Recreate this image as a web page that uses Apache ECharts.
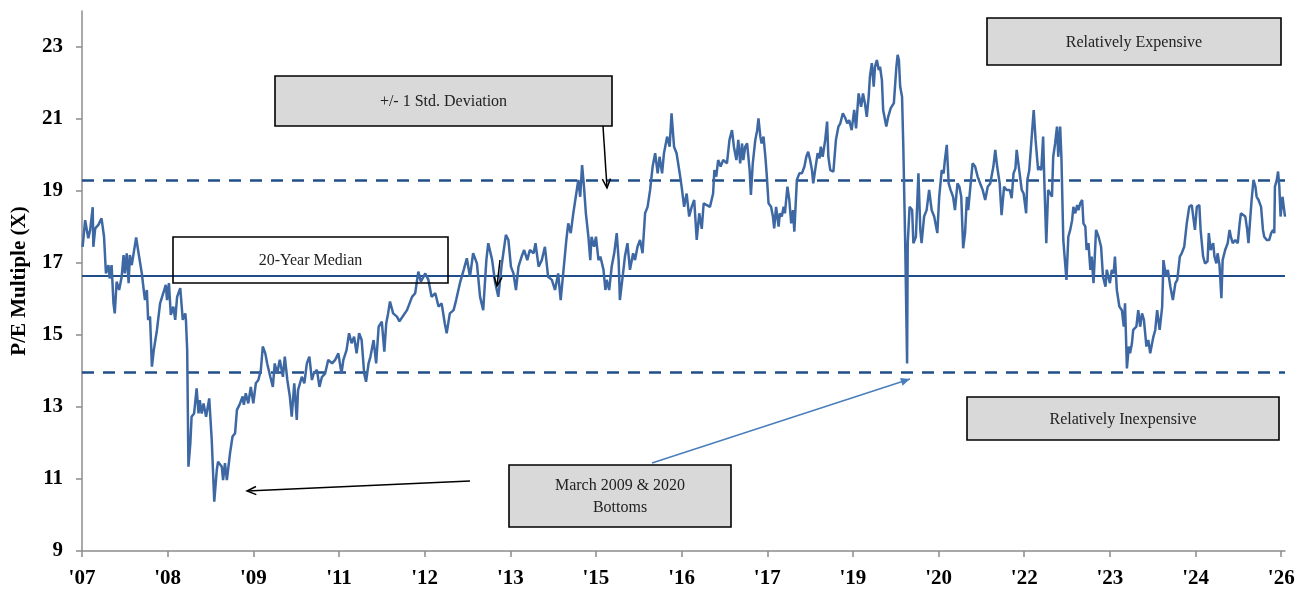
<!DOCTYPE html>
<html>
<head>
<meta charset="utf-8">
<script src="https://cdn.jsdelivr.net/npm/echarts@6/dist/echarts.min.js"></script>
<style>
  html, body { margin: 0; padding: 0; background: #fff; }
  #chart { width: 1299px; height: 590px; }
</style>
</head>
<body>
<div id="chart"></div>
<script>
// x positions are fractional years on the chart's date axis
const peYears = [
  2007.11, 2007.15, 2007.18, 2007.20, 2007.23, 2007.27, 2007.28, 2007.31, 2007.36, 2007.41,
  2007.45, 2007.48, 2007.52, 2007.54, 2007.57, 2007.60, 2007.62, 2007.65, 2007.69, 2007.73,
  2007.76, 2007.78, 2007.81, 2007.84, 2007.86, 2007.89, 2007.96, 2007.99, 2008.05, 2008.08,
  2008.10, 2008.13, 2008.15, 2008.18, 2008.21, 2008.24, 2008.29, 2008.34, 2008.39, 2008.43,
  2008.45, 2008.48, 2008.51, 2008.55, 2008.58, 2008.61, 2008.66, 2008.70, 2008.74, 2008.75,
  2008.77, 2008.79, 2008.82, 2008.84, 2008.88, 2008.92, 2008.95, 2008.97, 2009.00, 2009.03,
  2009.07, 2009.12, 2009.16, 2009.20, 2009.24, 2009.26, 2009.32, 2009.34, 2009.37, 2009.40,
  2009.45, 2009.49, 2009.53, 2009.56, 2009.60, 2009.65, 2009.67, 2009.70, 2009.74, 2009.78,
  2009.82, 2009.86, 2009.90, 2009.94, 2009.97, 2010.01, 2010.04, 2010.09, 2010.13, 2010.16,
  2010.20, 2010.24, 2010.29, 2010.32, 2010.36, 2010.40, 2010.43, 2010.47, 2010.51, 2010.53,
  2010.59, 2010.63, 2010.67, 2010.71, 2010.75, 2010.78, 2010.83, 2010.87, 2010.91, 2010.96,
  2011.01, 2011.07, 2011.12, 2011.17, 2011.22, 2011.25, 2011.30, 2011.34, 2011.38, 2011.42,
  2011.46, 2011.50, 2011.54, 2011.58, 2011.61, 2011.65, 2011.68, 2011.73, 2011.77, 2011.81,
  2011.86, 2011.90, 2011.93, 2011.96, 2011.99, 2012.04, 2012.10, 2012.14, 2012.26, 2012.34,
  2012.39, 2012.44, 2012.48, 2012.55, 2012.60, 2012.65, 2012.71, 2012.76, 2012.81, 2012.86,
  2012.89, 2012.94, 2013.00, 2013.04, 2013.10, 2013.16, 2013.21, 2013.26, 2013.31, 2013.37,
  2013.42, 2013.47, 2013.52, 2013.55, 2013.61, 2013.66, 2013.71, 2013.76, 2013.83, 2013.87,
  2013.91, 2013.95, 2013.99, 2014.03, 2014.08, 2014.12, 2014.17, 2014.21, 2014.27, 2014.30,
  2014.35, 2014.40, 2014.45, 2014.50, 2014.56, 2014.61, 2014.66, 2014.70, 2014.74, 2014.79,
  2014.82, 2014.86, 2014.90, 2014.94, 2014.98, 2015.01, 2015.04, 2015.07, 2015.10, 2015.14,
  2015.17, 2015.19, 2015.23, 2015.26, 2015.30, 2015.33, 2015.38, 2015.41, 2015.43, 2015.47,
  2015.51, 2015.55, 2015.59, 2015.62, 2015.64, 2015.69, 2015.72, 2015.76, 2015.80, 2015.85,
  2015.88, 2015.92, 2015.96, 2016.00, 2016.04, 2016.08, 2016.12, 2016.16, 2016.20, 2016.24,
  2016.27, 2016.31, 2016.34, 2016.39, 2016.43, 2016.46, 2016.50, 2016.54, 2016.59, 2016.62,
  2016.66, 2016.70, 2016.74, 2016.78, 2016.82, 2016.86, 2016.90, 2016.94, 2016.97, 2017.02,
  2017.07, 2017.12, 2017.14, 2017.17, 2017.20, 2017.24, 2017.28, 2017.34, 2017.38, 2017.42,
  2017.45, 2017.49, 2017.52, 2017.55, 2017.58, 2017.60, 2017.63, 2017.66, 2017.70, 2017.72,
  2017.75, 2017.79, 2017.82, 2017.84, 2017.87, 2017.89, 2017.92, 2017.95, 2017.97, 2018.00,
  2018.04, 2018.07, 2018.09, 2018.12, 2018.16, 2018.18, 2018.21, 2018.24, 2018.26, 2018.30,
  2018.33, 2018.36, 2018.39, 2018.41, 2018.45, 2018.49, 2018.53, 2018.57, 2018.60, 2018.63,
  2018.66, 2018.69, 2018.71, 2018.74, 2018.78, 2018.81, 2018.83, 2018.86, 2018.90, 2018.93,
  2018.95, 2018.98, 2019.03, 2019.07, 2019.11, 2019.14, 2019.18, 2019.22, 2019.25, 2019.28,
  2019.32, 2019.36, 2019.39, 2019.43, 2019.47, 2019.50, 2019.53, 2019.56, 2019.59, 2019.61,
  2019.64, 2019.67, 2019.69, 2019.72, 2019.75, 2019.77, 2019.80, 2019.82, 2019.87, 2019.90,
  2019.94, 2019.97, 2019.99, 2020.03, 2020.05, 2020.07, 2020.09, 2020.12, 2020.14, 2020.17,
  2020.20, 2020.21, 2020.24, 2020.28, 2020.30, 2020.34, 2020.38, 2020.41, 2020.43, 2020.47,
  2020.51, 2020.55, 2020.59, 2020.63, 2020.68, 2020.71, 2020.75, 2020.78, 2020.80, 2020.83,
  2020.86, 2020.89, 2020.93, 2020.96, 2021.00, 2021.03, 2021.06, 2021.09, 2021.12, 2021.15,
  2021.17, 2021.20, 2021.24, 2021.28, 2021.32, 2021.36, 2021.40, 2021.44, 2021.48, 2021.52,
  2021.57, 2021.60, 2021.63, 2021.67, 2021.70, 2021.74, 2021.78, 2021.83, 2021.86, 2021.89,
  2021.92, 2021.94, 2021.98, 2022.02, 2022.05, 2022.09, 2022.11, 2022.14, 2022.17, 2022.21,
  2022.24, 2022.28, 2022.30, 2022.33, 2022.36, 2022.38, 2022.41, 2022.44, 2022.46, 2022.50,
  2022.52, 2022.55, 2022.58, 2022.60, 2022.63, 2022.65, 2022.68, 2022.73, 2022.76, 2022.79,
  2022.82, 2022.84, 2022.87, 2022.90, 2022.92, 2022.95, 2022.98, 2023.00, 2023.03, 2023.05,
  2023.08, 2023.11, 2023.13, 2023.16, 2023.20, 2023.24, 2023.28, 2023.31, 2023.35, 2023.37,
  2023.40, 2023.42, 2023.45, 2023.48, 2023.50, 2023.53, 2023.57, 2023.61, 2023.64, 2023.66,
  2023.69, 2023.72, 2023.74, 2023.77, 2023.79, 2023.84, 2023.87, 2023.90, 2023.93, 2023.96,
  2024.00, 2024.03, 2024.06, 2024.09, 2024.11, 2024.14, 2024.17, 2024.21, 2024.25, 2024.27,
  2024.31, 2024.34, 2024.38, 2024.42, 2024.46, 2024.49, 2024.53, 2024.56, 2024.60, 2024.64,
  2024.68, 2024.72, 2024.75, 2024.77, 2024.80, 2024.84, 2024.86, 2024.90, 2024.93, 2024.97,
  2024.99, 2025.02, 2025.06, 2025.08, 2025.11, 2025.13, 2025.16, 2025.19, 2025.21, 2025.25,
  2025.29, 2025.32, 2025.34, 2025.37, 2025.41, 2025.45, 2025.48, 2025.50, 2025.53, 2025.57,
  2025.60, 2025.62, 2025.65, 2025.67, 2025.70, 2025.73, 2025.75, 2025.78, 2025.82, 2025.85,
  2025.87, 2025.91, 2025.95, 2025.98, 2026.01, 2026.03, 2026.04, 2026.07, 2026.09, 2026.11,
  2026.13, 2026.16, 2026.19, 2026.20
];
const peValues = [
  17.45, 18.19, 18.15, 17.69, 17.92, 18.55, 17.45, 17.96, 18.06, 18.24,
  17.73, 16.71, 16.94, 16.57, 16.94, 15.88, 15.60, 16.48, 16.25, 16.62,
  17.22, 16.71, 17.27, 16.44, 17.22, 16.94, 17.71, 17.36, 16.71, 16.25,
  15.97, 16.25, 15.42, 15.51, 14.12, 14.58, 15.14, 15.88, 16.16, 16.39,
  15.97, 16.44, 15.56, 15.79, 15.42, 16.06, 16.30, 15.42, 15.60, 15.42,
  14.58, 11.34, 11.99, 12.73, 12.82, 13.52, 12.82, 13.19, 12.82, 13.10,
  12.73, 13.24, 12.08, 10.37, 11.25, 11.48, 11.34, 10.97, 11.44, 10.97,
  11.71, 12.18, 12.27, 12.92, 13.06, 13.29, 13.06, 13.38, 13.10, 13.56,
  13.10, 13.66, 13.75, 14.03, 14.68, 14.49, 14.21, 13.84, 13.56, 14.21,
  13.93, 14.31, 13.84, 14.40, 13.75, 13.29, 12.73, 13.66, 12.64, 13.47,
  13.84, 13.66, 14.21, 14.40, 13.75, 13.93, 14.03, 13.56, 13.84, 13.93,
  14.31, 14.21, 14.31, 14.49, 13.93, 14.31, 14.58, 15.05, 14.77, 14.95,
  14.49, 15.05, 14.86, 13.93, 13.70, 14.21, 14.40, 14.86, 14.21, 15.23,
  15.37, 14.54, 15.32, 15.60, 15.93, 15.60, 15.51, 15.38, 15.69, 16.06,
  16.16, 16.76, 16.48, 16.71, 16.53, 16.06, 16.16, 15.79, 15.88, 15.32,
  15.05, 15.60, 15.69, 15.97, 16.44, 16.81, 17.13, 16.62, 17.27, 16.99,
  16.06, 15.69, 17.08, 17.55, 17.10, 16.45, 16.06, 16.90, 17.78, 17.64,
  16.90, 16.71, 16.25, 16.90, 17.18, 17.36, 17.08, 17.36, 17.27, 17.55,
  16.90, 17.08, 17.45, 16.62, 16.53, 16.25, 16.71, 15.97, 16.71, 17.64,
  18.10, 17.83, 18.38, 18.84, 19.31, 18.84, 19.72, 19.12, 18.38, 17.73,
  17.08, 17.73, 17.45, 17.73, 17.08, 17.18, 16.81, 16.25, 16.53, 16.25,
  16.90, 17.27, 17.83, 17.08, 15.97, 16.71, 17.18, 17.55, 16.81, 17.27,
  17.08, 17.45, 17.64, 17.27, 18.38, 18.56, 19.03, 19.68, 20.05, 19.49,
  19.95, 19.49, 20.05, 20.51, 20.23, 21.16, 20.23, 20.05, 19.49, 19.12,
  18.56, 18.93, 18.29, 18.56, 18.75, 17.64, 18.38, 17.95, 18.66, 18.61,
  18.56, 18.93, 19.58, 19.40, 19.86, 19.68, 19.86, 19.77, 20.42, 20.69,
  20.23, 19.86, 20.42, 19.77, 20.32, 19.86, 20.23, 20.32, 19.58, 18.89,
  19.77, 20.42, 20.69, 21.02, 20.51, 20.32, 20.51, 19.95, 19.49, 18.66,
  18.56, 18.29, 17.96, 18.56, 18.01, 18.38, 18.29, 18.56, 18.38, 19.12,
  18.75, 18.10, 18.47, 17.87, 19.31, 19.49, 19.49, 19.68, 19.95, 20.09,
  19.86, 19.58, 19.21, 19.58, 20.05, 19.91, 20.23, 19.95, 20.42, 20.93,
  19.95, 19.58, 19.54, 20.42, 20.79, 20.88, 21.16, 21.02, 20.88, 20.97,
  20.69, 21.25, 20.74, 21.71, 21.34, 21.71, 21.44, 21.06, 21.62, 22.18,
  22.55, 21.90, 22.45, 22.64, 22.36, 22.45, 22.08, 21.25, 20.79, 21.06,
  21.30, 21.25, 21.44, 22.45, 22.78, 22.64, 21.90, 21.62, 20.23, 17.55,
  14.21, 17.55, 18.56, 18.47, 17.55, 17.73, 19.49, 17.92, 17.55, 18.29,
  18.47, 19.03, 18.47, 18.29, 17.83, 18.84, 19.58, 19.49, 19.86, 20.28,
  19.21, 19.03, 18.84, 18.47, 19.21, 19.12, 18.84, 17.41, 17.83, 18.84,
  18.47, 19.03, 19.77, 19.68, 19.40, 19.21, 19.03, 18.75, 19.12, 19.21,
  19.68, 20.14, 19.68, 19.21, 18.33, 19.12, 19.03, 19.03, 18.80, 19.49,
  19.63, 20.14, 19.58, 19.03, 18.93, 18.38, 19.31, 19.58, 19.58, 21.25,
  20.42, 19.58, 19.68, 19.58, 20.51, 19.21, 17.55, 19.03, 19.07, 18.84,
  19.95, 20.32, 20.79, 19.95, 20.79, 19.95, 17.64, 16.53, 17.73, 17.92,
  18.19, 18.56, 18.38, 18.61, 18.47, 18.66, 18.75, 18.10, 18.01, 17.36,
  17.55, 16.81, 17.18, 16.44, 17.92, 17.73, 17.45, 16.62, 16.34, 16.81,
  16.81, 16.44, 16.81, 16.71, 17.18, 16.25, 15.79, 15.69, 15.23, 15.88,
  14.07, 14.68, 14.49, 14.77, 15.14, 15.23, 15.69, 15.23, 15.60, 15.42,
  14.68, 14.86, 14.49, 14.77, 14.95, 15.14, 15.69, 15.14, 15.79, 17.08,
  16.62, 16.81, 16.34, 15.97, 16.44, 16.53, 17.18, 17.27, 17.45, 18.10,
  18.56, 18.61, 18.19, 17.92, 18.56, 18.61, 17.92, 17.18, 16.99, 17.04,
  17.83, 17.36, 17.55, 17.18, 16.99, 17.27, 16.94, 16.02, 17.08, 17.36,
  17.55, 17.92, 17.73, 17.55, 17.64, 17.55, 18.10, 18.38, 18.38, 18.29,
  17.92, 17.55, 18.29, 18.75, 19.31, 19.12, 18.84, 18.75, 18.56, 17.92,
  17.73, 17.64, 17.64, 17.83, 17.92, 17.83, 19.12, 19.31, 19.54, 19.12,
  18.29, 18.84, 18.89, 18.29
];

const medianPE = 16.64;
const upperBand = 19.31;
const lowerBand = 13.97;

const xTickYears = [2007.10, 2008.46, 2009.82, 2011.18, 2012.54, 2013.90, 2015.26, 2016.62,
  2017.98, 2019.34, 2020.70, 2022.06, 2023.42, 2024.78, 2026.14];
const xTickLabels = ["'07", "'08", "'09", "'11", "'12", "'13", "'15", "'16",
  "'17", "'19", "'20", "'22", "'23", "'24", "'26"];
const yTickValues = [9, 11, 13, 15, 17, 19, 21, 23];

const chart = echarts.init(document.getElementById('chart'));
const serif = '"Liberation Serif", "DejaVu Serif", serif';
const navy = '#1f4e89';

// little helpers for the pasted-on callouts
function arrow(x1, y1, x2, y2, color, filled) {
  const a = Math.atan2(y2 - y1, x2 - x1);
  const L = 10, w = 0.42;
  const p1 = [x2 - L * Math.cos(a - w), y2 - L * Math.sin(a - w)];
  const p2 = [x2 - L * Math.cos(a + w), y2 - L * Math.sin(a + w)];
  const head = filled
    ? { type: 'polygon', z: 100, shape: { points: [p1, [x2, y2], p2] }, style: { fill: color } }
    : { type: 'polyline', z: 100, shape: { points: [p1, [x2, y2], p2] }, style: { stroke: color, lineWidth: 1.5, fill: null } };
  return [
    { type: 'line', z: 100, shape: { x1: x1, y1: y1, x2: x2, y2: y2 }, style: { stroke: color, lineWidth: 1.5 } },
    head
  ];
}
function box(x, y, w, h, text, fill) {
  return [
    { type: 'rect', z: 100, shape: { x: x, y: y, width: w, height: h },
      style: { fill: fill, stroke: '#000', lineWidth: 1.6 } },
    { type: 'text', z: 101, style: { x: x + w / 2, y: y + h / 2 + 1, text: text, align: 'center',
      verticalAlign: 'middle', font: '16px ' + serif, fill: '#222', lineHeight: 22 } }
  ];
}

const graphics = [].concat(
  box(275, 76, 337, 50, '+/- 1 Std. Deviation', '#d9d9d9'),
  box(987, 18, 294, 47, 'Relatively Expensive', '#d9d9d9'),
  box(967, 397, 312, 43, 'Relatively Inexpensive', '#d9d9d9'),
  box(173, 237, 275, 46, '20-Year Median', 'rgba(0,0,0,0)'),
  box(509, 465, 222, 62, 'March 2009 & 2020\nBottoms', '#d9d9d9'),
  arrow(603, 126, 607, 188, '#000', false),
  arrow(500, 260, 497, 286, '#000', false),
  arrow(470, 481, 247, 491, '#000', false),
  arrow(652, 463, 910, 379, '#4a7ebb', true)
);

const option = {
  animation: false,
  backgroundColor: '#fff',
  grid: { left: 82, right: 14, top: 11, bottom: 39, containLabel: false },
  xAxis: {
    type: 'value',
    min: 2007.1,
    max: 2026.2,
    splitLine: { show: false },
    axisLine: { lineStyle: { color: '#8c8c8c', width: 1.5 } },
    axisTick: { show: true, length: 6, customValues: xTickYears, lineStyle: { color: '#8c8c8c', width: 1.5 } },
    axisLabel: {
      customValues: xTickYears,
      margin: 17,
      color: '#000',
      fontFamily: serif,
      fontWeight: 'bold',
      fontSize: 21,
      formatter: function (v) {
        const i = xTickYears.findIndex(function (t) { return Math.abs(t - v) < 0.005; });
        return i >= 0 ? xTickLabels[i] : '';
      }
    }
  },
  yAxis: {
    type: 'value',
    min: 9,
    max: 24,
    name: 'P/E Multiple (X)',
    nameLocation: 'middle',
    nameGap: 52,
    nameRotate: 90,
    nameTextStyle: { color: '#000', fontFamily: serif, fontWeight: 'bold', fontSize: 21 },
    splitLine: { show: false },
    axisLine: { show: true, lineStyle: { color: '#8c8c8c', width: 1.5 } },
    axisTick: { show: true, length: 6, customValues: yTickValues, lineStyle: { color: '#8c8c8c', width: 1.5 } },
    axisLabel: {
      customValues: yTickValues,
      margin: 19,
      color: '#000',
      fontFamily: serif,
      fontWeight: 'bold',
      fontSize: 21
    }
  },
  series: [
    {
      name: 'P/E',
      type: 'line',
      data: peYears.map(function (yr, i) { return [yr, peValues[i]]; }),
      showSymbol: false,
      lineStyle: { color: '#3d68a3', width: 2.5 },
      z: 3,
      markLine: {
        silent: true,
        symbol: 'none',
        label: { show: false },
        z: 2,
        data: [
          { yAxis: medianPE, lineStyle: { color: navy, width: 2, type: 'solid' } },
          { yAxis: upperBand, lineStyle: { color: navy, width: 2.5, type: [12, 9] } },
          { yAxis: lowerBand, lineStyle: { color: navy, width: 2.5, type: [12, 9] } }
        ]
      }
    }
  ],
  graphic: graphics
};

chart.setOption(option);
</script>
</body>
</html>
